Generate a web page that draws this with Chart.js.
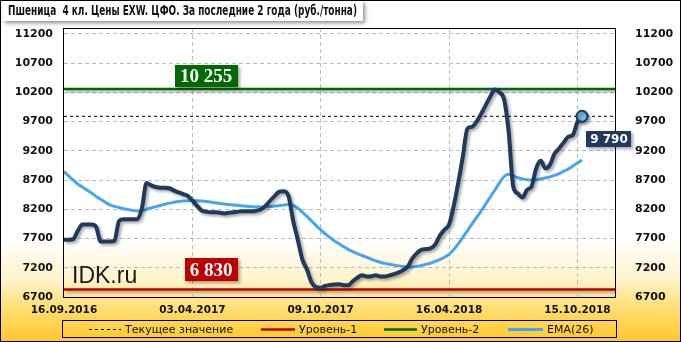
<!DOCTYPE html>
<html>
<head>
<meta charset="utf-8">
<script src="https://cdn.jsdelivr.net/npm/chart.js@4.4.1/dist/chart.umd.min.js"></script>
<style>
  html, body { margin: 0; padding: 0; background: #fff; }
  #wrap { width: 681px; height: 342px; }
</style>
</head>
<body>
<div id="wrap"><canvas id="c" width="681" height="342"></canvas></div>
<script>
'use strict';

// ── DATA ──
const xTickIndex  = [0, 28, 56, 84, 112];
const xTickLabels = ['16.09.2016', '03.04.2017', '09.10.2017', '16.04.2018', '15.10.2018'];
const yTicks      = [6700, 7200, 7700, 8200, 8700, 9200, 9700, 10200, 10700, 11200];

// weekly prices, руб./тонна
const price = [
  7680, 7680, 7690, 7830, 7940, 7940, 7940, 7900, 7650, 7650,
  7650, 7660, 8000, 8030, 8030, 8030, 8030, 8220, 8650, 8610,
  8580, 8570, 8570, 8560, 8520, 8490, 8460, 8430, 8350, 8260,
  8180, 8160, 8150, 8150, 8140, 8130, 8140, 8150, 8160, 8165,
  8165, 8165, 8175, 8200, 8260, 8350, 8430, 8500, 8510, 8420,
  8000, 7680, 7340, 7170, 6950, 6870, 6860, 6890, 6905, 6915,
  6920, 6900, 6900, 6970, 7030, 7070, 7050, 7055, 7070, 7050,
  7050, 7070, 7090, 7120, 7160, 7220, 7360, 7450, 7510, 7520,
  7535, 7600, 7750, 7850, 7940, 8250, 8650, 9100, 9580, 9610,
  9700, 9830, 9980, 10130, 10250, 10200, 10080, 9530, 8590, 8470,
  8400, 8530, 8590, 8900, 9030, 8900, 8960, 9150, 9240, 9340,
  9440, 9470, 9690, 9790
];

const ema26 = [
  8845, 8770, 8700, 8630, 8580, 8530, 8480, 8420, 8370, 8320,
  8275, 8250, 8230, 8210, 8195, 8180, 8170, 8175, 8200, 8225,
  8245, 8265, 8285, 8305, 8320, 8333, 8343, 8348, 8350, 8348,
  8342, 8335, 8325, 8310, 8300, 8290, 8280, 8272, 8265, 8258,
  8250, 8245, 8242, 8240, 8242, 8248, 8255, 8265, 8275, 8280,
  8265, 8220, 8150, 8080, 8000, 7920, 7850, 7780, 7720, 7660,
  7610, 7560, 7515, 7475, 7440, 7410, 7380, 7350, 7320, 7295,
  7275, 7260, 7245, 7232, 7222, 7215, 7215, 7225, 7240, 7260,
  7280, 7310, 7340, 7380, 7430, 7510, 7610, 7720, 7830, 7950,
  8060, 8170, 8290, 8410, 8530, 8650, 8760, 8800, 8770, 8740,
  8720, 8705, 8700, 8705, 8720, 8735, 8755, 8780, 8810, 8850,
  8890, 8940, 8990, 9045
];

const level1  = 6830;   // Уровень-1
const level2  = 10255;  // Уровень-2
const current = 9790;   // Текущее значение

const X_MAX = 120.2;

const TITLE = 'Пшеница  4 кл. Цены EXW. ЦФО. За последние 2 года (руб./тонна)';
const TITLE_W = 349;

// ── COLORS ──
const C_PRICE = '#1f3a5c';
const C_EMA   = '#45a5f5';
const C_RED   = '#c00000';
const C_GREEN = '#006a00';

const pts = arr => arr.map((v, i) => ({ x: i, y: v }));
const flat = v => [{ x: 0, y: v }, { x: X_MAX, y: v }];

function fmtSpace(n) {
  return String(n).replace(/\B(?=(\d{3})+(?!\d))/g, ' ');
}

// ── PLUGINS ──
const bgPlugin = {
  id: 'bg',
  beforeDraw(chart) {
    const { ctx, width, height } = chart;
    const g = ctx.createLinearGradient(0, 0, 0, height);
    g.addColorStop(0, '#ffffff');
    g.addColorStop(0.70, '#ffffff');
    g.addColorStop(0.82, '#fff3c8');
    g.addColorStop(0.91, '#ffdc6a');
    g.addColorStop(1, '#ffc82a');
    ctx.save();
    ctx.fillStyle = g;
    ctx.fillRect(0, 0, width, height);
    ctx.restore();
  }
};

const shadowPlugin = {
  id: 'lineShadow',
  beforeDatasetDraw(chart, args) {
    const ds = chart.data.datasets[args.index];
    if (!ds.shadow) return;
    const ctx = chart.ctx;
    ctx.save();
    ctx.shadowColor = 'rgba(0,0,0,0.35)';
    ctx.shadowBlur = 3;
    ctx.shadowOffsetX = 2;
    ctx.shadowOffsetY = 2;
  },
  afterDatasetDraw(chart, args) {
    const ds = chart.data.datasets[args.index];
    if (!ds.shadow) return;
    chart.ctx.restore();
  }
};

function tag(ctx, text, cx, cy, w, h, bg, font) {
  ctx.save();
  ctx.shadowColor = 'rgba(0,0,0,0.35)';
  ctx.shadowBlur = 3;
  ctx.shadowOffsetX = 2;
  ctx.shadowOffsetY = 2;
  ctx.fillStyle = bg;
  ctx.fillRect(Math.round(cx - w / 2), Math.round(cy - h / 2), w, h);
  ctx.restore();
  ctx.save();
  ctx.fillStyle = '#fff';
  ctx.font = font;
  ctx.textAlign = 'center';
  ctx.textBaseline = 'middle';
  ctx.fillText(text, cx, cy + 1);
  ctx.restore();
}

const decorPlugin = {
  id: 'decor',
  afterDatasetsDraw(chart) {
    const { ctx, chartArea: a, scales } = chart;
    const y = scales.y;

    // plot frame
    ctx.save();
    ctx.strokeStyle = '#000';
    ctx.lineWidth = 1;
    ctx.strokeRect(a.left - 0.5, a.top + 0.5, a.right - a.left + 1, a.bottom - a.top);
    ctx.restore();

    // watermark
    ctx.save();
    ctx.fillStyle = '#1a1a1a';
    ctx.font = '23px "Liberation Sans", Arial, sans-serif';
    ctx.textBaseline = 'alphabetic';
    ctx.fillText('IDK.ru', a.left + 8, 283);
    ctx.restore();

    // level tags
    const serif = 'bold 19px "Liberation Serif", "Times New Roman", serif';
    tag(ctx, fmtSpace(level2), a.left + 142, y.getPixelForValue(level2) - 13, 63, 22, C_GREEN, serif);
    tag(ctx, fmtSpace(level1), a.left + 147, y.getPixelForValue(level1) - 19.5, 53, 23, C_RED, serif);

    // current value tag next to the last point
    const meta = chart.getDatasetMeta(0);
    const last = meta.data[meta.data.length - 1];
    tag(ctx, fmtSpace(current), last.x + 27, last.y + 22.5, 45, 16, C_PRICE,
        'bold 12px "DejaVu Sans", Verdana, sans-serif');
  },
  afterDraw(chart) {
    const { ctx, width, height } = chart;

    // title box + narrow bold text
    ctx.save();
    ctx.shadowColor = 'rgba(0,0,0,0.45)';
    ctx.shadowBlur = 4;
    ctx.shadowOffsetX = 2;
    ctx.shadowOffsetY = 2;
    ctx.fillStyle = '#fff';
    ctx.fillRect(3, 1, TITLE_W + 11, 20);
    ctx.restore();
    ctx.save();
    ctx.font = 'bold 14px "DejaVu Sans Condensed", "DejaVu Sans", sans-serif';
    const tw = ctx.measureText(TITLE).width;
    ctx.fillStyle = '#111';
    ctx.textBaseline = 'middle';
    ctx.translate(8, 11.5);
    ctx.scale(TITLE_W / tw, 1);
    ctx.fillText(TITLE, 0, 0);
    ctx.restore();

    // legend
    const items = [
      { label: 'Текущее значение', color: '#000', dash: [3, 3], w: 1, x0: 89, x1: 121 },
      { label: 'Уровень-1', color: C_RED,   dash: [], w: 2.5, x0: 261, x1: 295 },
      { label: 'Уровень-2', color: C_GREEN, dash: [], w: 2.5, x0: 384, x1: 417 },
      { label: 'EMA(26)',   color: C_EMA,   dash: [], w: 3,   x0: 508, x1: 543 },
    ];
    const ly = 329;
    ctx.save();
    ctx.strokeStyle = '#000';
    ctx.lineWidth = 1;
    ctx.strokeRect(62.5, 320.5, 554, 17);
    ctx.font = '11px "DejaVu Sans", Verdana, sans-serif';
    ctx.textBaseline = 'middle';
    ctx.fillStyle = '#111';
    items.forEach(it => {
      ctx.save();
      ctx.strokeStyle = it.color;
      ctx.lineWidth = it.w;
      ctx.setLineDash(it.dash);
      ctx.beginPath();
      ctx.moveTo(it.x0, ly + 0.5);
      ctx.lineTo(it.x1, ly + 0.5);
      ctx.stroke();
      ctx.restore();
      ctx.fillText(it.label, it.x1 + 4, ly + 1);
    });
    ctx.restore();

    // outer border
    ctx.save();
    ctx.strokeStyle = '#000';
    ctx.lineWidth = 1;
    ctx.strokeRect(0.5, 0.5, width - 1, height - 1);
    ctx.restore();
  }
};

// ── CHART ──
const tickFont  = { family: '"DejaVu Sans", Verdana, sans-serif', size: 11, weight: 'bold' };
const xTickFont = { family: '"DejaVu Sans", Verdana, sans-serif', size: 10.5, weight: 'bold' };
const setYTicks = s => { s.ticks = yTicks.map(v => ({ value: v })); };

new Chart(document.getElementById('c'), {
  type: 'line',
  data: {
    datasets: [
      {
        label: 'Цена',
        data: pts(price),
        borderColor: C_PRICE,
        borderWidth: 4,
        cubicInterpolationMode: 'monotone',
        pointRadius: ctx => ctx.dataIndex === price.length - 1 ? 5.5 : 0,
        pointBackgroundColor: '#6cc0e0',
        pointBorderColor: C_PRICE,
        pointBorderWidth: 2,
        shadow: true,
        order: 0,
      },
      {
        label: 'EMA(26)',
        data: pts(ema26),
        borderColor: C_EMA,
        borderWidth: 3,
        cubicInterpolationMode: 'monotone',
        pointRadius: 0,
        order: 1,
      },
      {
        label: 'Текущее значение',
        data: flat(current),
        borderColor: '#000',
        borderWidth: 1,
        borderDash: [3, 3],
        pointRadius: 0,
        order: 2,
      },
      {
        label: 'Уровень-2',
        data: flat(level2),
        borderColor: C_GREEN,
        borderWidth: 2.5,
        pointRadius: 0,
        shadow: true,
        order: 3,
      },
      {
        label: 'Уровень-1',
        data: flat(level1),
        borderColor: C_RED,
        borderWidth: 2.5,
        pointRadius: 0,
        shadow: true,
        order: 4,
      },
    ]
  },
  options: {
    responsive: false,
    animation: false,
    devicePixelRatio: 1,
    layout: { padding: { top: 28, left: 0, right: 0, bottom: 0 } },
    plugins: {
      legend: { display: false },
      tooltip: { enabled: false },
      title: { display: false },
    },
    scales: {
      x: {
        type: 'linear',
        min: 0,
        max: X_MAX,
        afterBuildTicks: s => { s.ticks = xTickIndex.map(v => ({ value: v })); },
        afterFit: s => { s.height = 45; },
        ticks: {
          autoSkip: false,
          maxRotation: 0,
          padding: 7,
          color: '#111',
          font: xTickFont,
          callback: (v, i) => xTickLabels[i],
        },
        grid: {
          color: ctx => ctx.index === 0 ? 'rgba(0,0,0,0)' : '#bdbdbd',
          drawTicks: false,
        },
        border: { display: false, dash: [4, 3] },
      },
      y: {
        position: 'left',
        min: 6700,
        max: 11300,
        afterBuildTicks: setYTicks,
        afterFit: s => { s.width = 64; },
        ticks: { padding: 11, color: '#111', font: tickFont, callback: v => String(v) },
        grid: { color: '#bdbdbd', drawTicks: false },
        border: { display: false, dash: [4, 3] },
      },
      y2: {
        position: 'right',
        min: 6700,
        max: 11300,
        afterBuildTicks: setYTicks,
        afterFit: s => { s.width = 66; },
        ticks: { padding: 12, color: '#111', font: tickFont, callback: v => String(v) },
        grid: { display: false },
        border: { display: false },
      },
    }
  },
  plugins: [bgPlugin, shadowPlugin, decorPlugin]
});
</script>
</body>
</html>
